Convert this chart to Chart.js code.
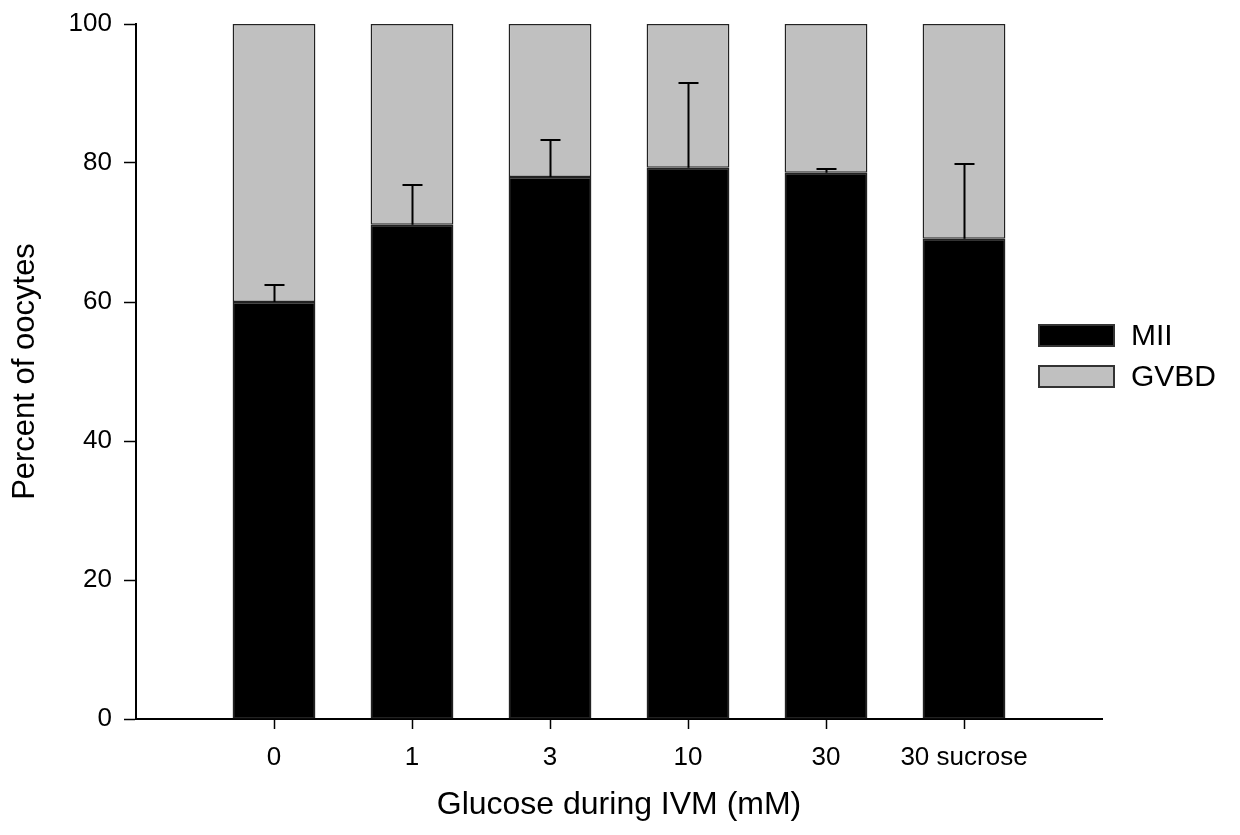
<!DOCTYPE html>
<html>
<head>
<meta charset="utf-8">
<title>Glucose during IVM</title>
<script src="https://cdn.jsdelivr.net/npm/chart.js@4/dist/chart.umd.min.js"></script>
<style>
  body { margin: 0; background: #fff; }
  #chartDiv { width: 1240px; height: 835px; }
</style>
</head>
<body>
<div id="chartDiv"><canvas id="stackChart" width="1240" height="835"></canvas></div>
<script>
// glucose groups on the x axis
var categories = ['0', '1', '3', '10', '30', '30 sucrose'];
// percent of oocytes at MII and at GVBD (stacked to 100)
var mii = [60.0, 71.1, 78.0, 79.3, 78.6, 69.1];
var gvbd = [40.0, 28.9, 22.0, 20.7, 21.4, 30.9];
// upper error (SEM) on the MII bars
var miiErr = [2.5, 5.8, 5.3, 12.2, 0.6, 10.7];
var yTicks = [0, 20, 40, 60, 80, 100];

var FONT = 'Liberation Sans, Arial, sans-serif';

// blank slot at each end so the axis runs a full category past the bars
var labels = [''].concat(categories, ['']);
function pad(arr) { return [null].concat(arr, [null]); }

var errorBars = {
    id: 'errorBars',
    afterDatasetsDraw: function(chart) {
        var ctx = chart.ctx;
        var y = chart.scales.y;
        var meta = chart.getDatasetMeta(0);
        ctx.save();
        ctx.strokeStyle = '#000';
        ctx.lineWidth = 2;
        for (var i = 0; i < mii.length; i++) {
            var bar = meta.data[i + 1];
            var x = Math.round(bar.x) + 0.5;
            var y0 = y.getPixelForValue(mii[i]);
            var y1 = Math.round(y.getPixelForValue(mii[i] + miiErr[i]));
            ctx.beginPath();
            ctx.moveTo(x, y0);
            ctx.lineTo(x, y1);
            ctx.moveTo(x - 10, y1);
            ctx.lineTo(x + 10, y1);
            ctx.stroke();
        }
        ctx.restore();
    }
};

var sideLegend = {
    id: 'sideLegend',
    afterDraw: function(chart) {
        var ctx = chart.ctx;
        var items = chart.data.datasets;
        ctx.save();
        ctx.font = '30px ' + FONT;
        ctx.textBaseline = 'middle';
        ctx.textAlign = 'left';
        for (var i = 0; i < items.length; i++) {
            var top = 325 + i * 41;
            ctx.fillStyle = items[i].backgroundColor;
            ctx.fillRect(1039, top, 75, 21);
            ctx.strokeStyle = '#333';
            ctx.lineWidth = 2;
            ctx.strokeRect(1039, top, 75, 21);
            ctx.fillStyle = '#000';
            ctx.fillText(items[i].label, 1131, top + 12);
        }
        ctx.restore();
    }
};

var data = {
    labels: labels,
    datasets: [{
        label: 'MII',
        data: pad(mii),
        backgroundColor: '#000000',
        borderColor: '#222',
        borderWidth: 1.5,
        borderSkipped: false
    }, {
        label: 'GVBD',
        data: pad(gvbd),
        backgroundColor: '#c0c0c0',
        borderColor: '#222',
        borderWidth: 1.5,
        borderSkipped: false
    }]
};

var options = {
    responsive: false,
    animation: false,
    layout: { padding: { left: 0, top: 24, right: 138, bottom: 0 } },
    datasets: { bar: { categoryPercentage: 1, barPercentage: 0.6 } },
    plugins: {
        legend: { display: false },
        tooltip: { enabled: false }
    },
    scales: {
        x: {
            stacked: true,
            offset: false,
            afterFit: function(scale) {
                scale.height = 116;
                scale.paddingLeft = 0;
                scale.paddingRight = 0;
            },
            border: { display: true, color: '#000', width: 2 },
            grid: {
                offset: false,
                drawOnChartArea: false,
                drawTicks: true,
                tickLength: 10,
                tickWidth: 1.5,
                tickColor: function(c) { return labels[c.index] ? '#000' : 'rgba(0,0,0,0)'; }
            },
            ticks: {
                autoSkip: false,
                maxRotation: 0,
                padding: 13,
                color: '#000',
                font: { family: FONT, size: 26 }
            },
            title: {
                display: true,
                text: 'Glucose during IVM (mM)',
                color: '#000',
                font: { family: FONT, size: 32 },
                padding: { top: 0, bottom: 11 }
            }
        },
        y: {
            stacked: true,
            min: 0,
            max: 100,
            afterFit: function(scale) {
                scale.width = 136;
                scale.paddingTop = 0;
                scale.paddingBottom = 0;
            },
            afterBuildTicks: function(scale) {
                scale.ticks = yTicks.map(function(v) { return { value: v }; });
            },
            border: { display: true, color: '#000', width: 2 },
            grid: {
                drawOnChartArea: false,
                drawTicks: true,
                tickLength: 12,
                tickWidth: 1.5,
                tickColor: '#000'
            },
            ticks: {
                padding: 12,
                color: '#000',
                font: { family: FONT, size: 26 }
            },
            title: {
                display: true,
                text: 'Percent of oocytes',
                color: '#000',
                font: { family: FONT, size: 31 },
                padding: { top: 7, bottom: 0 }
            }
        }
    }
};

var stackChart = new Chart(document.getElementById('stackChart'), {
    type: 'bar',
    data: data,
    options: options,
    plugins: [errorBars, sideLegend]
});
</script>
</body>
</html>
